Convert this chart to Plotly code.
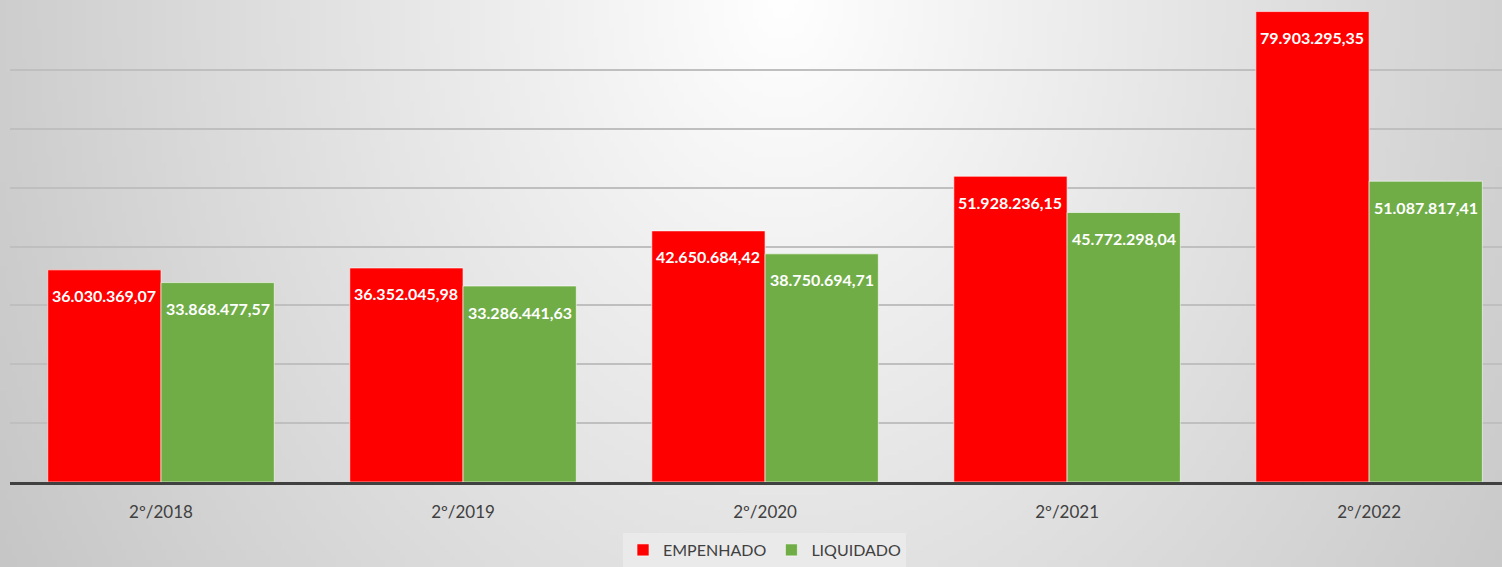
import base64
import struct
import zlib

import numpy as np
import plotly.graph_objects as go

periods = ["2º/2018", "2º/2019", "2º/2020", "2º/2021", "2º/2022"]
empenhado = [36030369.07, 36352045.98, 42650684.42, 51928236.15, 79903295.35]
liquidado = [33868477.57, 33286441.63, 38750694.71, 45772298.04, 51087817.41]

W, H = 1502, 567


def br_money(v):
    return f"{v:,.2f}".replace(",", "X").replace(".", ",").replace("X", ".")


def gradient_png(w, h):
    # radial grey gradient, white near top middle, like the Excel chart area
    ys, xs = np.mgrid[0:h, 0:w]
    xs = xs * (W / w)
    ys = ys * (H / h)
    t = np.sqrt(((xs - 780) / 920) ** 2 + (ys / 1150) ** 2)
    val = np.clip(255 - 58 * t, 195, 255).astype(np.uint8)
    arr = np.stack([val, val, val], axis=-1)
    raw = b"".join(b"\x00" + row.tobytes() for row in arr)

    def chunk(tag, data):
        c = struct.pack(">I", len(data)) + tag + data
        return c + struct.pack(">I", zlib.crc32(tag + data) & 0xFFFFFFFF)

    png = b"\x89PNG\r\n\x1a\n"
    png += chunk(b"IHDR", struct.pack(">IIBBBBB", w, h, 8, 2, 0, 0, 0))
    png += chunk(b"IDAT", zlib.compress(raw, 9))
    png += chunk(b"IEND", b"")
    return "data:image/png;base64," + base64.b64encode(png).decode()


fig = go.Figure()
fig.add_trace(go.Bar(name="EMPENHADO", x=periods, y=empenhado,
                     marker=dict(color="#ff0000", line=dict(color="rgba(255,255,255,0.6)", width=1))))
fig.add_trace(go.Bar(name="LIQUIDADO", x=periods, y=liquidado,
                     marker=dict(color="#70ad47", line=dict(color="rgba(255,255,255,0.6)", width=1))))

# value labels near the top of each bar
bar_px = 57
for series, shift in [(empenhado, -bar_px), (liquidado, bar_px)]:
    for p, v in zip(periods, series):
        fig.add_annotation(x=p, y=v, text=br_money(v), showarrow=False,
                           xshift=shift, yshift=-26, yanchor="middle",
                           font=dict(family="Lato", size=16, color="white", weight="bold"))

fig.add_layout_image(source=gradient_png(302, 114), xref="paper", yref="paper",
                     x=0, y=1, sizex=1, sizey=1, sizing="stretch",
                     xanchor="left", yanchor="top", layer="below")

fig.update_layout(
    width=W, height=H,
    margin=dict(l=0, r=0, t=0, b=0),
    paper_bgcolor="#d4d4d4",
    plot_bgcolor="rgba(0,0,0,0)",
    barmode="group",
    bargap=0.25,
    bargroupgap=0.0,
    font=dict(family="Lato", color="#404040"),
    xaxis=dict(domain=[10 / W, 1], range=[-0.5, 4.44], showline=True, linecolor="#404040",
               linewidth=3, ticks="outside", ticklen=13, tickcolor="rgba(0,0,0,0)",
               tickfont=dict(size=17, color="#404040"), showgrid=False),
    yaxis=dict(domain=[(H - 482) / H, (H - 11) / H], range=[0, 80e6], dtick=10e6,
               showticklabels=False, gridcolor="#bfbfbf", gridwidth=2, zeroline=False),
    legend=dict(orientation="h", x=0.509, xanchor="center", y=0, yanchor="bottom",
                bgcolor="#eaeaea", font=dict(size=16, color="#404040"),
                itemwidth=30, traceorder="normal"),
)

fig.write_html("out.html", config={"displayModeBar": False},
               post_script="document.body.style.margin='0';")
